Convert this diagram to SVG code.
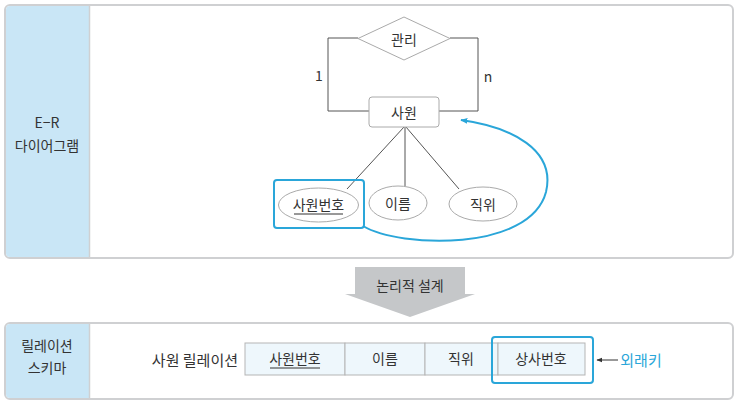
<svg xmlns="http://www.w3.org/2000/svg" width="738" height="406" viewBox="0 0 738 406">
<defs>
<style>
text{font-family:"Noto Sans CJK KR","Noto Sans",sans-serif;font-size:14px;fill:#333;text-anchor:middle;dominant-baseline:central}
.panel{fill:#fff;stroke:#cfd0d2;stroke-width:2}
.side{fill:#c9e6f6}
.ln{fill:none;stroke:#555;stroke-width:1}
.sh{fill:#fff;stroke:#aaa;stroke-width:1}
.cell{fill:#eef7fc;stroke:#b5b5b5;stroke-width:1}
.hl{fill:none;stroke:#2aa6d9;stroke-width:2}
</style>
<marker id="ah" viewBox="0 0 10 10" refX="9" refY="5" markerWidth="7" markerHeight="7" orient="auto" markerUnits="userSpaceOnUse">
<path d="M0,1 L10,5 L0,9 z" fill="#2aa6d9"/>
</marker>
<marker id="ak" viewBox="0 0 10 10" refX="9" refY="5" markerWidth="6" markerHeight="6" orient="auto" markerUnits="userSpaceOnUse">
<path d="M0,1 L10,5 L0,9 z" fill="#333"/>
</marker>
</defs>

<g id="panel-er">
<rect class="panel" x="5" y="5" width="728" height="253" rx="5"/>
<path class="side" d="M10,6 H89 V257 H10 A4,4 0 0 1 6,253 V10 A4,4 0 0 1 10,6 z"/>
<line x1="89.5" y1="6" x2="89.5" y2="257" stroke="#cfd0d2" stroke-width="1.5"/>
<text x="47" y="122">E−R</text>
<text x="47" y="145">다이어그램</text>
</g>

<g id="connectors">
<polyline class="ln" points="358,38 328,38 328,111 369,111"/>
<polyline class="ln" points="450,38 478,38 478,111 439,111"/>
<line class="ln" x1="404" y1="127" x2="347" y2="189"/>
<line class="ln" x1="405" y1="127" x2="405" y2="186"/>
<line class="ln" x1="406" y1="127" x2="459" y2="189"/>
<path class="hl" d="M363,226 C400,248 530,252 546,192 C556,150 512,127 461,120" marker-end="url(#ah)"/>
</g>

<text x="319" y="75">1</text>
<text x="488" y="76">n</text>

<g id="rel-manage">
<polygon class="sh" points="404,17 450,38.5 404,60 358,38.5"/>
<text x="404" y="39">관리</text>
</g>

<g id="ent-employee">
<rect class="sh" x="369" y="97" width="70" height="30" rx="3"/>
<text x="404" y="112">사원</text>
</g>

<g id="attr-empno">
<ellipse class="sh" cx="318.5" cy="205" rx="40" ry="17"/>
<text x="318.5" y="204">사원번호</text>
<line x1="294" y1="214" x2="343" y2="214" stroke="#333" stroke-width="1"/>
<rect class="hl" x="274" y="180" width="90" height="48" rx="3"/>
</g>

<g id="attr-name">
<ellipse class="sh" cx="398" cy="203" rx="29" ry="17"/>
<text x="398" y="203">이름</text>
</g>

<g id="attr-title">
<ellipse class="sh" cx="483" cy="204" rx="34" ry="17"/>
<text x="483" y="204">직위</text>
</g>

<g id="step-arrow">
<polygon points="355,267 465,267 465,294 475,294 410,317 345,294 355,294" fill="#c5c7c9"/>
<text x="410" y="285">논리적 설계</text>
</g>

<g id="panel-schema">
<rect class="panel" x="5" y="323" width="728" height="76" rx="5"/>
<path class="side" d="M10,324 H89 V398 H10 A4,4 0 0 1 6,394 V328 A4,4 0 0 1 10,324 z"/>
<line x1="89.5" y1="324" x2="89.5" y2="398" stroke="#cfd0d2" stroke-width="1.5"/>
<text x="47" y="345">릴레이션</text>
<text x="47" y="367">스키마</text>
</g>

<g id="relation">
<text x="238" y="359" style="text-anchor:end;font-size:15px">사원 릴레이션</text>
<rect class="cell" x="245" y="343" width="100" height="32"/>
<rect class="cell" x="345" y="343" width="80" height="32"/>
<rect class="cell" x="425" y="343" width="73" height="32"/>
<rect class="cell" x="498" y="343" width="87" height="32"/>
<text x="295" y="358">사원번호</text>
<line x1="270" y1="368" x2="320" y2="368" stroke="#333" stroke-width="1"/>
<text x="385" y="358">이름</text>
<text x="461" y="358">직위</text>
<text x="541" y="358">상사번호</text>
<rect class="hl" x="492" y="337" width="101" height="46" rx="3"/>
</g>

<g id="fk-label">
<line x1="618" y1="360" x2="597" y2="360" stroke="#333" stroke-width="1" marker-end="url(#ak)"/>
<text x="641" y="359" style="fill:#2aa6d9;font-size:15px">외래키</text>
</g>
</svg>
